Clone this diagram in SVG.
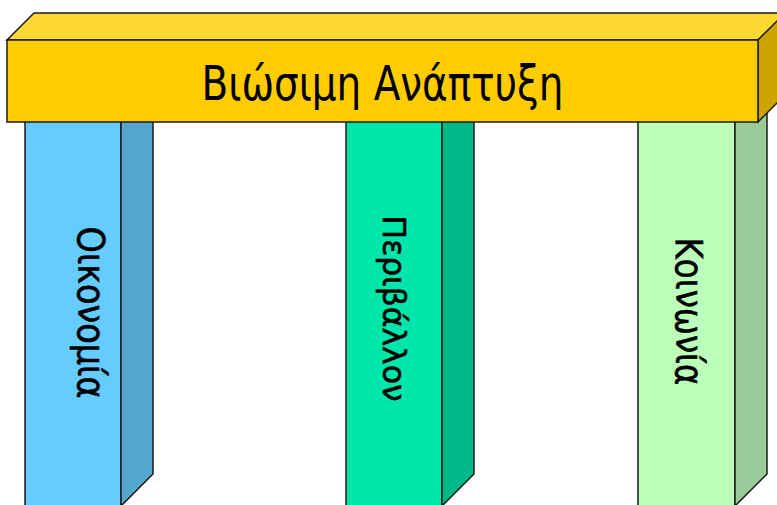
<svg xmlns="http://www.w3.org/2000/svg" width="777" height="505" viewBox="0 0 777 505">
<style>
.edge{stroke:#1a1a1a;stroke-width:1.5;stroke-linejoin:miter}
.lbl{font-family:"DejaVu Sans","Noto Sans",sans-serif;fill:#000}
.vlbl{stroke:#000;stroke-width:0.6}
</style>
<rect width="777" height="505" fill="#ffffff"/>
<g id="pillar-economy">
<rect class="edge" x="25" y="110" width="96" height="410" fill="#66CCFF"/>
<polygon class="edge" points="121,110 153,110 153,474 121,506" fill="#55A6CC"/>
<text class="lbl vlbl" font-size="38" text-anchor="middle" textLength="172" lengthAdjust="spacingAndGlyphs" transform="translate(77.5,312.5) rotate(90)">Οικονομία</text>
</g>
<g id="pillar-environment">
<rect class="edge" x="346" y="110" width="96" height="410" fill="#00E6AA" stroke="#123a2c"/>
<polygon class="edge" points="442,110 474,110 474,474 442,506" fill="#00B888" stroke="#123a2c"/>
<text class="lbl vlbl" font-size="32" text-anchor="middle" textLength="186" lengthAdjust="spacingAndGlyphs" transform="translate(382.5,308.5) rotate(90)">Περιβάλλον</text>
</g>
<g id="pillar-society">
<rect class="edge" x="638" y="110" width="97" height="410" fill="#BBFFBB" stroke="#333"/>
<polygon class="edge" points="735,110 767,110 767,474 735,506" fill="#99CC99" stroke="#333"/>
<text class="lbl vlbl" font-size="38" text-anchor="middle" textLength="148" lengthAdjust="spacingAndGlyphs" transform="translate(675.5,311.5) rotate(90)">Κοινωνία</text>
</g>
<g id="beam">
<polygon class="edge" points="7,40 34,13 786,13 758,40" fill="#FFD833"/>
<polygon class="edge" points="758,40 786,12 786,94 758,122" fill="#CCA300"/>
<rect class="edge" x="7" y="40" width="751" height="82" fill="#FFCC00"/>
<text class="lbl" x="382.5" y="99.5" font-size="48" text-anchor="middle" textLength="362" lengthAdjust="spacingAndGlyphs">Βιώσιμη Ανάπτυξη</text>
</g>
</svg>
